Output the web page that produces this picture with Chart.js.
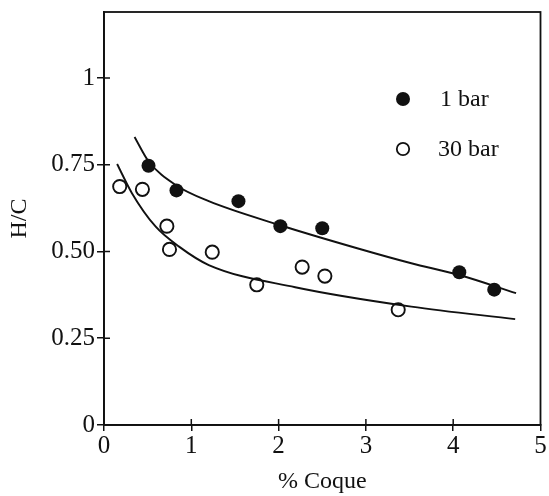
<!DOCTYPE html>
<html>
<head>
<meta charset="utf-8">
<script src="https://cdn.jsdelivr.net/npm/chart.js@4.4.1/dist/chart.umd.min.js"></script>
<style>
  html, body { margin: 0; padding: 0; background: #fff; }
  #wrap { width: 549px; height: 496px; position: relative; }
</style>
</head>
<body>
<div id="wrap"><canvas id="c"></canvas></div>
<script>
// ---- data ----
const xTicks = [0, 1, 2, 3, 4, 5];
const xTickLabels = ['0', '1', '2', '3', '4', '5'];
const yTicks = [0, 0.25, 0.5, 0.75, 1];
const yTickLabels = ['0', '0.25', '0.50', '0.75', '1'];

const seriesNames = ['1 bar', '30 bar'];

const bar1X = [0.51, 0.83, 1.54, 2.02, 2.50, 4.07, 4.47];
const bar1Y = [0.747, 0.676, 0.645, 0.573, 0.567, 0.440, 0.390];

const bar30X = [0.18, 0.44, 0.72, 0.75, 1.24, 1.75, 2.27, 2.53, 3.37];
const bar30Y = [0.687, 0.679, 0.573, 0.506, 0.498, 0.404, 0.455, 0.429, 0.332];

const fit1X = [0.35, 0.51, 0.83, 1.20, 2.00, 2.89, 3.52, 4.06, 4.72];
const fit1Y = [0.830, 0.760, 0.690, 0.645, 0.577, 0.510, 0.466, 0.433, 0.380];

const fit30X = [0.15, 0.32, 0.59, 0.86, 1.20, 2.19, 3.52, 4.71];
const fit30Y = [0.752, 0.668, 0.572, 0.514, 0.461, 0.397, 0.341, 0.305];

const xTitle = '% Coque';
const yTitle = 'H/C';

// ---- build ----
const pts = (xs, ys) => xs.map((x, i) => ({ x: x, y: ys[i] }));
const INK = '#111';
const FONT = '"Liberation Serif", "DejaVu Serif", serif';
const noPad = () => ({ left: 0, top: 0, right: 0, bottom: 0 });

const frame = {
  id: 'frame',
  afterDraw(chart) {
    const { ctx, chartArea: a, scales } = chart;
    ctx.save();
    ctx.strokeStyle = INK;
    ctx.lineWidth = 1.8;
    ctx.strokeRect(a.left, a.top, a.right - a.left, a.bottom - a.top);
    // inner tick marks
    ctx.lineWidth = 1.5;
    ctx.beginPath();
    scales.x.ticks.forEach(t => {
      const px = scales.x.getPixelForValue(t.value);
      if (px > a.left + 2 && px < a.right - 2) { ctx.moveTo(px, a.bottom); ctx.lineTo(px, a.bottom - 6); }
    });
    scales.y.ticks.forEach(t => {
      const py = scales.y.getPixelForValue(t.value);
      if (py < a.bottom - 2) { ctx.moveTo(a.left, py); ctx.lineTo(a.left + 6, py); }
    });
    ctx.stroke();
    // legend
    const lx = a.left + (a.right - a.left) * 0.685;
    const ly1 = a.top + 87, ly2 = a.top + 137;
    ctx.fillStyle = INK;
    ctx.beginPath(); ctx.arc(lx, ly1, 7, 0, Math.PI * 2); ctx.fill();
    ctx.lineWidth = 1.8;
    ctx.beginPath(); ctx.arc(lx, ly2, 6.2, 0, Math.PI * 2); ctx.stroke();
    ctx.font = '24px ' + FONT;
    ctx.textBaseline = 'middle';
    ctx.textAlign = 'left';
    ctx.fillText(seriesNames[0], lx + 37, ly1 + 1);
    ctx.fillText(seriesNames[1], lx + 35, ly2 + 1);
    ctx.restore();
  }
};

new Chart(document.getElementById('c'), {
  type: 'scatter',
  data: {
    datasets: [
      { label: seriesNames[0], data: pts(bar1X, bar1Y), pointRadius: 7, pointBackgroundColor: INK, pointBorderColor: INK, pointBorderWidth: 0, showLine: false },
      { label: seriesNames[1], data: pts(bar30X, bar30Y), pointRadius: 6.6, pointBackgroundColor: 'rgba(255,255,255,0)', pointBorderColor: INK, pointBorderWidth: 1.9, showLine: false },
      { label: 'fit 1 bar', type: 'line', data: pts(fit1X, fit1Y), showLine: true, pointRadius: 0, borderColor: INK, borderWidth: 1.9, fill: false, cubicInterpolationMode: 'monotone' },
      { label: 'fit 30 bar', type: 'line', data: pts(fit30X, fit30Y), showLine: true, pointRadius: 0, borderColor: INK, borderWidth: 1.9, fill: false, cubicInterpolationMode: 'monotone' }
    ]
  },
  options: {
    responsive: true,
    maintainAspectRatio: false,
    animation: false,
    events: [],
    layout: { padding: { top: 12, right: 4, left: 0, bottom: 0 } },
    plugins: { legend: { display: false }, tooltip: { enabled: false } },
    scales: {
      x: {
        type: 'linear', min: 0, max: 5,
        afterBuildTicks: s => { s.ticks = xTicks.map(v => ({ value: v })); },
        afterFit: s => { s.height = 71; s.paddingLeft = 0; s.paddingRight = 0; s.getPadding = noPad; },
        border: { display: true, color: INK, width: 1.8 },
        grid: { display: true, drawOnChartArea: false, color: INK, lineWidth: 1.5, tickLength: 6 },
        ticks: { color: INK, font: { family: FONT, size: 25 }, padding: 0, maxRotation: 0,
                 callback: (v) => xTickLabels[xTicks.indexOf(v)] },
        title: { display: true, text: xTitle, color: INK, font: { family: FONT, size: 24 }, padding: { top: 2, bottom: 0 } }
      },
      y: {
        type: 'linear', min: 0, max: 1.19,
        afterBuildTicks: s => { s.ticks = yTicks.map(v => ({ value: v })); },
        afterFit: s => { s.width = 104; s.paddingTop = 0; s.paddingBottom = 0; s.getPadding = noPad; },
        border: { display: true, color: INK, width: 1.8 },
        grid: { display: true, drawOnChartArea: false, color: INK, lineWidth: 1.5, tickLength: 7 },
        ticks: { color: INK, font: { family: FONT, size: 25 }, padding: 2,
                 callback: (v) => yTickLabels[yTicks.indexOf(v)] },
        title: { display: true, text: yTitle, color: INK, font: { family: FONT, size: 24 }, padding: { top: 5, bottom: 0 } }
      }
    }
  },
  plugins: [frame]
});
</script>
</body>
</html>
